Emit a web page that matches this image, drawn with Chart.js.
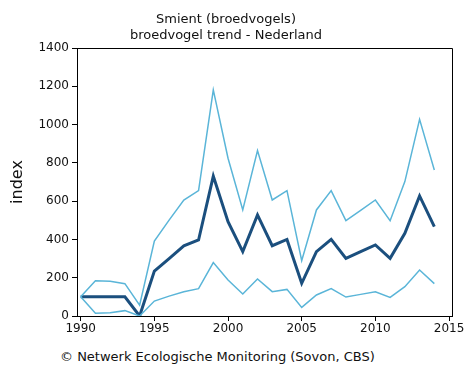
<!DOCTYPE html>
<html>
<head>
<meta charset="utf-8">
<script src="https://cdn.jsdelivr.net/npm/chart.js@4"></script>
<style>
  html, body { margin: 0; padding: 0; background: #fff; }
  #wrap { position: relative; width: 466px; height: 369px; }
  #c { position: absolute; left: 0; top: 0; }
  #footer { position: absolute; left: 60px; top: 349px; font: 13px "DejaVu Sans", sans-serif; color: #111; white-space: nowrap; }
</style>
</head>
<body>
<div id="wrap">
  <canvas id="c" width="466" height="340"></canvas>
  <div id="footer">© Netwerk Ecologische Monitoring (Sovon, CBS)</div>
</div>
<script>
const years = [1990,1991,1992,1993,1994,1995,1996,1997,1998,1999,2000,2001,2002,2003,2004,2005,2006,2007,2008,2009,2010,2011,2012,2013,2014];
const upper = [100,184,181,169,57,392,501,606,655,1181,824,554,864,606,655,289,554,655,498,552,606,498,702,1027,763];
const trend = [100,100,100,100,0,235,300,367,397,731,493,336,528,367,400,171,336,400,301,336,371,301,432,627,467];
const lower = [100,14,17,28,0,78,104,127,143,279,188,115,193,127,139,45,110,143,99,113,127,97,153,240,169];
const xTicks = [1990,1995,2000,2005,2010,2015];
const yTicks = [0,200,400,600,800,1000,1200,1400];
const titleLines = ['Smient (broedvogels)', 'broedvogel trend - Nederland'];
const yTitle = 'index';

const pts = arr => arr.map((v, i) => ({x: years[i], y: v}));
const FONT = '"DejaVu Sans", sans-serif';

const boxPlugin = {
  id: 'box',
  afterDraw(chart) {
    const a = chart.chartArea, ctx = chart.ctx;
    ctx.save();
    ctx.strokeStyle = '#000';
    ctx.lineWidth = 1;
    ctx.beginPath();
    ctx.moveTo(Math.round(a.left) + 0.5, Math.round(a.top) + 0.5);
    ctx.lineTo(Math.round(a.right) + 0.5, Math.round(a.top) + 0.5);
    ctx.lineTo(Math.round(a.right) + 0.5, Math.round(a.bottom) + 0.5);
    ctx.stroke();
    ctx.restore();
  }
};

new Chart(document.getElementById('c'), {
  type: 'line',
  data: {
    datasets: [
      { data: pts(upper), borderColor: '#5ab5d8', borderWidth: 1.5, pointRadius: 0, tension: 0, fill: false },
      { data: pts(lower), borderColor: '#5ab5d8', borderWidth: 1.5, pointRadius: 0, tension: 0, fill: false },
      { data: pts(trend), borderColor: '#1b4f7e', borderWidth: 3, pointRadius: 0, tension: 0, fill: false }
    ]
  },
  plugins: [boxPlugin],
  options: {
    responsive: false,
    animation: false,
    devicePixelRatio: 1,
    layout: { padding: { left: 0, right: 14, top: 0, bottom: 0 } },
    plugins: {
      legend: { display: false },
      tooltip: { enabled: false },
      title: {
        display: true,
        text: titleLines,
        color: '#111',
        font: { family: FONT, size: 13, weight: 'normal', lineHeight: 1.2 },
        padding: { top: 12, bottom: 4.8 }
      }
    },
    scales: {
      x: {
        type: 'linear',
        min: 1989.75,
        max: 2015.2,
        afterBuildTicks: s => { s.ticks = xTicks.map(v => ({value: v})); },
        afterFit: s => { s.height = 24; },
        ticks: { color: '#111', font: { family: FONT, size: 12 }, padding: 1, maxRotation: 0, callback: v => String(v) },
        grid: { display: true, drawOnChartArea: false, drawTicks: true, tickLength: 5, color: '#000' },
        border: { display: true, color: '#000', width: 1 }
      },
      y: {
        min: 0,
        max: 1400,
        afterBuildTicks: s => { s.ticks = yTicks.map(v => ({value: v})); },
        afterFit: s => { s.width = 77; },
        ticks: { color: '#111', font: { family: FONT, size: 12 }, padding: 3, callback: v => String(v) },
        grid: { display: true, drawOnChartArea: false, drawTicks: true, tickLength: 5, color: '#000' },
        border: { display: true, color: '#000', width: 1 },
        title: { display: true, text: yTitle, color: '#111', font: { family: FONT, size: 16 }, padding: { top: 8, bottom: 0 } }
      }
    }
  }
});
</script>
</body>
</html>
